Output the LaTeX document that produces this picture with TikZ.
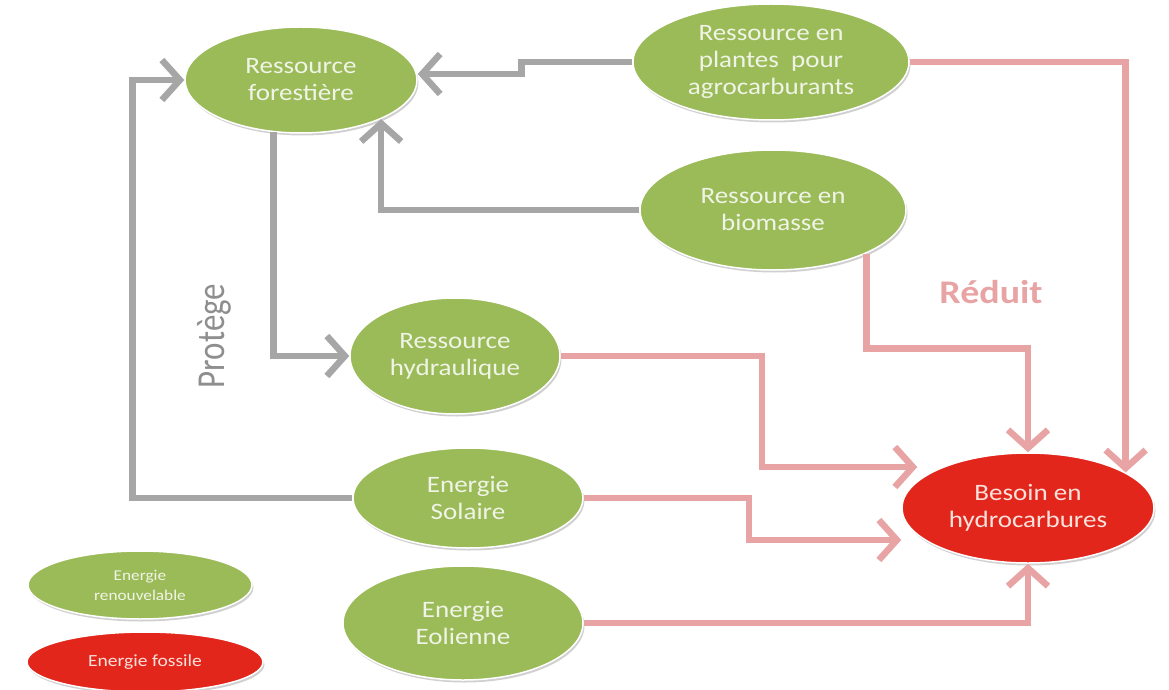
\documentclass[tikz,border=0pt]{standalone}
\usepackage{fontspec}
\setmainfont{Carlito}
\newfontfamily\nf[FakeStretch=1.15]{Carlito}
\usetikzlibrary{shapes.geometric,arrows.meta,calc,shadows}
\definecolor{vert}{HTML}{9BBB59}
\definecolor{rouge}{HTML}{E3261C}
\definecolor{gris}{HTML}{A6A6A6}
\definecolor{rose}{HTML}{E8A4A4}
\definecolor{txtv}{HTML}{F0F4E6}
\definecolor{txtr}{HTML}{F9E2DC}
\definecolor{grisT}{HTML}{8E8E8E}
\begin{document}
\begin{tikzpicture}[x=1pt,y=-1pt,
  el/.style={ellipse, draw=white, line width=1.5pt, inner sep=0pt, align=center,
    drop shadow={shadow xshift=1.5pt,shadow yshift=-2.5pt,opacity=0.3,fill=black!60}},
  vnode/.style={el, fill=vert, text=txtv, font=\nf\fontsize{23.5}{27}\selectfont},
  rnode/.style={el, fill=rouge, text=txtr, font=\nf\fontsize{23.5}{27}\selectfont},
  garr/.style={draw=gris, line width=6.5pt, -{Straight Barb[length=18pt,width=40pt]}},
  parr/.style={draw=rose, line width=6.5pt, -{Straight Barb[length=18pt,width=40pt]}}]
\fill[white] (0,0) rectangle (1169,690);
\useasboundingbox (0,0) rectangle (1169,690);

\node[vnode, minimum width=232pt, minimum height=106pt] (forest) at (301,80) {Ressource\\forestière};
\node[vnode, minimum width=276pt, minimum height=116pt] (plantes) at (771,62) {Ressource en\\plantes~ pour\\agrocarburants};
\node[vnode, minimum width=266pt, minimum height=120pt] (biomasse) at (773,210) {Ressource en\\biomasse};
\node[vnode, minimum width=210pt, minimum height=116pt] (hydraulique) at (455,356) {Ressource\\hydraulique};
\node[vnode, minimum width=230pt, minimum height=100pt] (solaire) at (468,498) {Energie\\Solaire};
\node[vnode, minimum width=240pt, minimum height=114pt] (eolienne) at (463,623) {Energie\\Eolienne};
\node[rnode, minimum width=252pt, minimum height=110pt] (besoin) at (1028,508) {Besoin en\\hydrocarbures};

\node[vnode, minimum width=224pt, minimum height=68pt, font=\nf\fontsize{15}{20}\selectfont] (leg1) at (140,585) {Energie\\renouvelable};
\node[rnode, minimum width=236pt, minimum height=60pt, font=\nf\fontsize{17}{20}\selectfont] (leg2) at (145,662) {Energie fossile};

\node[font=\fontsize{33}{36}\selectfont, text=grisT, xscale=1.2, rotate=90] (protege) at (214,336) {Protège};
\node[font=\nf\bfseries\fontsize{33}{36}\selectfont, text=rose] (reduit) at (991,292) {Réduit};

% gray connectors
\draw[garr] (plantes.west) -- ++(-111,0) |- ($(forest.east)+(0,-6)$);
\draw[garr] (biomasse.west) -| (forest.-26);
\draw[garr] (forest.-118) |- (hydraulique.west);
\draw[garr] (solaire.west) -- ++(-220,0) |- (forest.west);

% pink connectors
\draw[parr] (plantes.east) -| (besoin.20);
\draw[parr] (biomasse.-25) -- ++(0,95) -| (besoin.north);
\draw[parr] (hydraulique.east) -- ++(201,0) |- ($(besoin.west)+(16,-41)$);
\draw[parr] (solaire.east) -- ++(165,0) |- ($(besoin.west)+(0,32)$);
\draw[parr] (eolienne.east) -| (besoin.south);
\end{tikzpicture}
\end{document}
